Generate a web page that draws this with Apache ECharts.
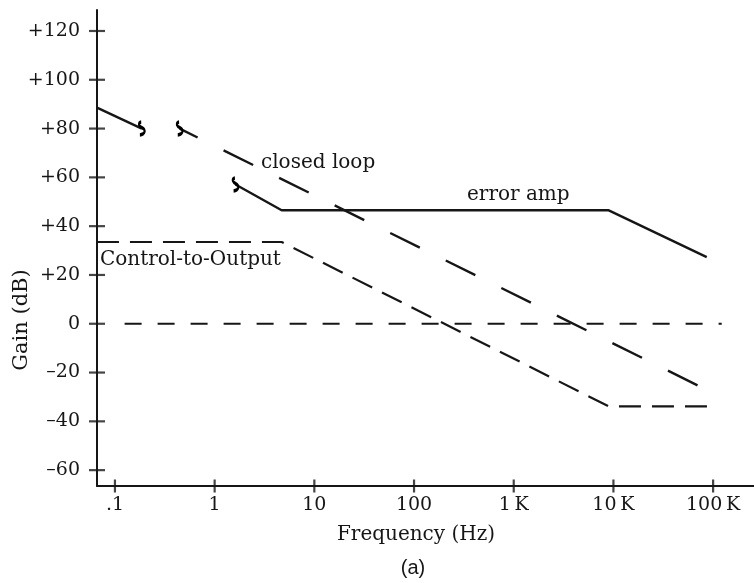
<!DOCTYPE html>
<html>
<head>
<meta charset="utf-8">
<script src="https://cdn.jsdelivr.net/npm/echarts@6/dist/echarts.min.js"></script>
<style>
html,body{margin:0;padding:0;background:#fff;}
#chart{width:754px;height:583px;}
</style>
</head>
<body>
<div id="chart"></div>
<script>
// ---- data (frequency in Hz, gain in dB) ----
const freqTicks = [0.1, 1, 10, 100, 1000, 10000, 100000];
const freqTickLabels = ['.1', '1', '10', '100', '1\u2009K', '10\u2009K', '100\u2009K'];
const gainTicks = [-60, -40, -20, 0, 20, 40, 60, 80, 100, 120];
const gainTickLabels = ['\u201360', '\u201340', '\u201320', '0', '+20', '+40', '+60', '+80', '+100', '+120'];

const closedLoopLowFreq = [0.066, 0.186];
const closedLoopLowGain = [88.6, 80];
const closedLoopFreq = [0.446, 112000];
const closedLoopGain = [80, -29.4];
const errorAmpFreq = [1.62, 4.7, 8980, 86300];
const errorAmpGain = [57.1, 46.5, 46.5, 27.3];
const controlFreq = [0.066, 4.7, 9000, 109000];
const controlGain = [33.5, 33.5, -33.9, -33.9];
const unityFreq = [0.125, 122000];
const unityGain = [0, 0];
const breakFreq = [0.186, 0.446, 1.62];
const breakGain = [80, 80, 57.1];

const lg = v => Math.log10(v);
const pts = (f, g) => f.map((v, i) => [lg(v), g[i]]);

const INK = '#161616';
const SERIF = '"DejaVu Serif", "Liberation Serif", serif';
const tickPos = freqTicks.map(lg);
const X_MIN = -1.18, X_MAX = 5.41, Y_MIN = -66.5, Y_MAX = 128.6;

const chart = echarts.init(document.getElementById('chart'), null, {renderer: 'canvas'});

chart.setOption({
  animation: false,
  backgroundColor: '#fff',
  grid: {left: 97, top: 10, right: 0, bottom: 97, outerBoundsMode: 'none', containLabel: false},
  xAxis: {
    type: 'value', min: X_MIN, max: X_MAX,
    splitLine: {show: false},
    axisLine: {show: true, onZero: false, lineStyle: {color: INK, width: 2}},
    axisTick: {show: false},
    axisLabel: {
      show: true, margin: 10, customValues: tickPos,
      formatter: v => { const i = tickPos.findIndex(t => Math.abs(t - v) < 1e-6); return i >= 0 ? freqTickLabels[i] : ''; },
      color: INK, fontFamily: SERIF, fontSize: 19
    }
  },
  yAxis: {
    type: 'value', min: Y_MIN, max: Y_MAX,
    splitLine: {show: false},
    axisLine: {show: true, onZero: false, lineStyle: {color: INK, width: 2}},
    axisTick: {show: false},
    axisLabel: {
      show: true, margin: 17, customValues: gainTicks,
      formatter: v => { const i = gainTicks.indexOf(Math.round(v)); return i >= 0 ? gainTickLabels[i] : ''; },
      color: INK, fontFamily: SERIF, fontSize: 19
    }
  },
  series: [
    {
      name: 'xTicks', type: 'scatter', clip: false, silent: true,
      data: tickPos.map(t => [t, Y_MIN]),
      symbol: 'rect', symbolSize: [2.2, 13],
      itemStyle: {color: INK}, z: 6
    },
    {
      name: 'yTicks', type: 'scatter', clip: false, silent: true,
      data: gainTicks.map(g => [X_MIN, g]),
      symbol: 'rect', symbolSize: [16, 2.2],
      itemStyle: {color: INK}, z: 6
    },
    {
      name: 'unity', type: 'line', data: pts(unityFreq, unityGain), symbol: 'none',
      lineStyle: {color: INK, width: 2.2, type: [17, 16]}
    },
    {
      name: 'control', type: 'line', data: pts(controlFreq, controlGain), symbol: 'none',
      lineStyle: {color: INK, width: 2.2, type: [22, 11]}
    },
    {
      name: 'closedLow', type: 'line', data: pts(closedLoopLowFreq, closedLoopLowGain), symbol: 'none',
      lineStyle: {color: INK, width: 2.4}
    },
    {
      name: 'closed', type: 'line', data: pts(closedLoopFreq, closedLoopGain), symbol: 'none',
      lineStyle: {color: INK, width: 2.4, type: [33, 29], dashOffset: 13}
    },
    {
      name: 'errorAmp', type: 'line', data: pts(errorAmpFreq, errorAmpGain), symbol: 'none',
      lineStyle: {color: INK, width: 2.4}
    },
    {
      name: 'breaks', type: 'scatter', data: pts(breakFreq, breakGain), silent: true,
      symbol: 'path://M3,0 C0,1 1,4 4,6 C7,8 6,12 2,13',
      symbolSize: [6, 13],
      itemStyle: {color: 'rgba(0,0,0,0)', borderColor: '#000', borderWidth: 2.4, opacity: 1},
      z: 5
    }
  ],
  graphic: [
    {type: 'text', x: 261, y: 163, style: {text: 'closed loop', font: '20px ' + SERIF, fill: INK, align: 'left', verticalAlign: 'middle'}},
    {type: 'text', x: 467, y: 195, style: {text: 'error amp', font: '20px ' + SERIF, fill: INK, align: 'left', verticalAlign: 'middle'}},
    {type: 'text', x: 100, y: 260, style: {text: 'Control-to-Output', font: '20px ' + SERIF, fill: INK, align: 'left', verticalAlign: 'middle'}},
    {type: 'text', x: 416, y: 535, style: {text: 'Frequency (Hz)', font: '20px ' + SERIF, fill: INK, align: 'center', verticalAlign: 'middle'}},
    {type: 'text', x: 413, y: 568, style: {text: '(a)', font: '20px "Liberation Sans Narrow", "Liberation Sans", sans-serif', fill: INK, align: 'center', verticalAlign: 'middle'}},
    {type: 'text', x: 22, y: 320, rotation: Math.PI / 2, style: {text: 'Gain (dB)', font: '21px ' + SERIF, fill: INK, align: 'center', verticalAlign: 'middle'}}
  ]
});
</script>
</body>
</html>
